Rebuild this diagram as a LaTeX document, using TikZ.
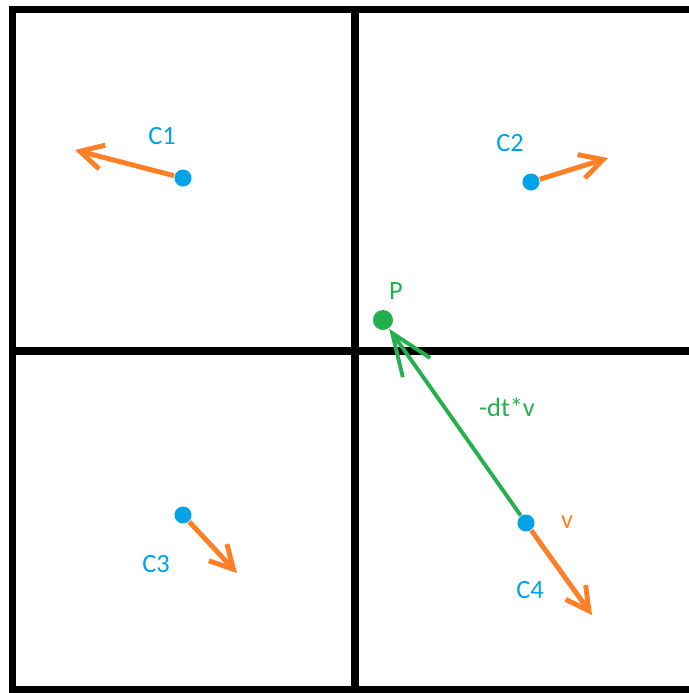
\documentclass[tikz,border=0pt]{standalone}
\usepackage{fontspec}
\setmainfont{Carlito}
\usetikzlibrary{arrows.meta}
\definecolor{paintblue}{RGB}{0,162,232}
\definecolor{paintorange}{RGB}{255,127,39}
\definecolor{paintgreen}{RGB}{34,177,76}

\begin{document}
\begin{tikzpicture}[
    x=0.01cm, y=-0.01cm,
    grid/.style={line width=2pt, black},
    cdot/.style={circle, fill=paintblue, inner sep=0pt, minimum size=0.17cm},
    pdot/.style={circle, fill=paintgreen, inner sep=0pt, minimum size=0.2cm},
    clabel/.style={text=paintblue, font=\fontsize{7.5pt}{9pt}\selectfont},
    vlabel/.style={text=paintorange, font=\fontsize{7.5pt}{9pt}\selectfont},
    glabel/.style={text=paintgreen, font=\fontsize{7.5pt}{9pt}\selectfont},
    varrow/.style={paintorange, line width=1.4pt, -{Straight Barb[length=6.5pt, width=7pt]}},
    garrow/.style={paintgreen, line width=1.1pt, -{Straight Barb[length=12pt, width=9.5pt]}}
]
    \useasboundingbox (0,0) rectangle (689,693);
    \clip (0,0) rectangle (689,693);

    % cells
    \draw[grid] (720,9.5) -- (12.5,9.5) -- (12.5,690) -- (720,690);
    \draw[grid] (355,9.5) -- (355,690);
    \draw[grid] (12.5,351) -- (720,351);

    % cell centres and P
    \node[cdot] (c1) at (183,178) {};
    \node[cdot] (c2) at (531,182) {};
    \node[cdot] (c3) at (183,515) {};
    \node[cdot] (c4) at (526,523) {};
    \node[pdot] (p) at (383,320) {};

    \coordinate (v1) at (75,150);
    \coordinate (v2) at (608,158);
    \coordinate (v3) at (237,573);
    \coordinate (v4) at (592,615);

    \node[clabel] (l1) at (162,136) {C1};
    \node[clabel] (l2) at (510,143) {C2};
    \node[clabel] (l3) at (156,564) {C3};
    \node[clabel] (l4) at (530,590) {C4};
    \node[glabel] (lp) at (396,291) {P};
    \node[glabel] (ldt) at (507,407) {-dt*v};
    \node[vlabel] (lv) at (567,522) {v};

    % velocities
    \draw[varrow] (c1) -- (v1);
    \draw[varrow] (c2) -- (v2);
    \draw[varrow] (c3) -- (v3);
    \draw[varrow] (c4) -- (v4);

    % backtrace
    \draw[garrow] (c4) -- (p);
\end{tikzpicture}
\end{document}
